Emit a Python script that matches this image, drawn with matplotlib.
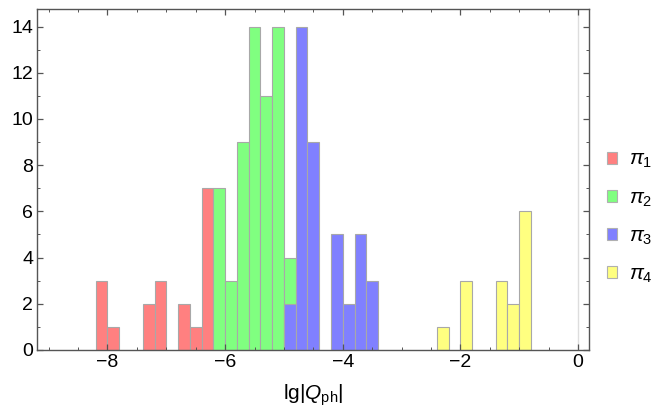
import numpy as np
import matplotlib
matplotlib.use("Agg")
import matplotlib.pyplot as plt
from matplotlib.patches import Patch
from matplotlib.ticker import MultipleLocator

# histogram data: bin width 0.2, first left edge and counts per bin
bin_width = 0.2

pi1_start = -8.2
pi1_counts = [3, 1, 0, 0, 2, 3, 0, 2, 1, 7]

pi2_start = -6.2
pi2_counts = [7, 3, 9, 14, 11, 14, 4]

pi3_start = -5.0
pi3_counts = [2, 14, 9, 0, 5, 2, 5, 3]

pi4_start = -2.4
pi4_counts = [1, 0, 3, 0, 0, 3, 2, 6]

series_names = [r"$\pi_1$", r"$\pi_2$", r"$\pi_3$", r"$\pi_4$"]
series_colors = ["#ff8080", "#80ff80", "#8080ff", "#ffff80"]
series = [(pi1_start, pi1_counts), (pi2_start, pi2_counts),
          (pi3_start, pi3_counts), (pi4_start, pi4_counts)]

plt.rcParams["font.family"] = ["Liberation Sans", "DejaVu Sans"]
plt.rcParams["mathtext.fontset"] = "custom"
plt.rcParams["mathtext.rm"] = "Liberation Sans"
plt.rcParams["mathtext.it"] = "Liberation Sans:italic"

fig = plt.figure(figsize=(6.54, 4.18), dpi=100)
ax = fig.add_axes([0.0573, 0.1627, 0.901 - 0.0573, 0.978 - 0.1627])

ax.axvline(0, color="#dddddd", lw=1.0, zorder=0)

handles = []
for (start, counts), name, col in zip(series, series_names, series_colors):
    counts = np.array(counts)
    lefts = start + bin_width * np.arange(len(counts))
    mask = counts > 0
    ax.bar(lefts[mask], counts[mask], width=bin_width, align="edge",
           color=col, edgecolor="#a8a8a8", linewidth=0.8)
    handles.append(Patch(facecolor=col, edgecolor="#b0b0b0", linewidth=0.8, label=name))

ax.set_xlim(-9.19, 0.19)
ax.set_ylim(0, 14.75)
ax.xaxis.set_major_locator(MultipleLocator(2))
ax.xaxis.set_minor_locator(MultipleLocator(0.5))
ax.yaxis.set_major_locator(MultipleLocator(2))
ax.yaxis.set_minor_locator(MultipleLocator(1))

frame_col = "#555555"
for s in ax.spines.values():
    s.set_color(frame_col)
    s.set_linewidth(1.0)
ax.tick_params(which="both", direction="in", top=True, right=True,
               color=frame_col, labelsize=14, labelcolor="black")
ax.tick_params(which="major", length=4, width=0.9, pad=3)
ax.tick_params(which="minor", length=2.2, width=0.7)

ax.set_xlabel(r"$\mathrm{lg}|Q_{\mathrm{ph}}|$", fontsize=15, labelpad=8)

fig.legend(handles=handles, loc="center left", bbox_to_anchor=(0.899, 0.48),
           frameon=False, fontsize=15, handlelength=0.5, handleheight=0.5,
           handletextpad=0.55, labelspacing=0.85, borderpad=0.4, borderaxespad=0.5)

fig.savefig("out.png", dpi=100)
